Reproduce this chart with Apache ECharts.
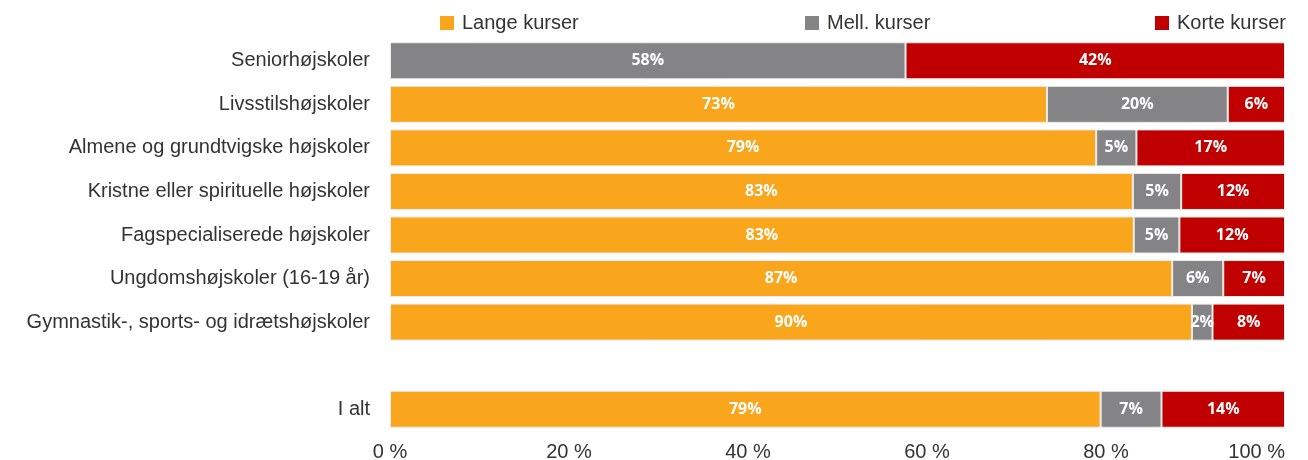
<!DOCTYPE html>
<html><head><meta charset="utf-8">
<script src="https://cdn.jsdelivr.net/npm/echarts@6/dist/echarts.min.js"></script>
<style>html,body{margin:0;padding:0;background:#fff}#c{width:1308px;height:460px}</style>
</head><body><div id="c"></div>
<script>
const categories = ['Seniorhøjskoler','Livsstilshøjskoler','Almene og grundtvigske højskoler','Kristne eller spirituelle højskoler','Fagspecialiserede højskoler','Ungdomshøjskoler (16-19 år)','Gymnastik-, sports- og idrætshøjskoler','','I alt'];
const lange = ['-', 73.4, 78.9, 83.0, 83.1, 87.4, 89.6, '-', 79.4];
const mell  = [57.6, 20.2, 4.5, 5.4, 5.1, 5.7, 2.3, '-', 6.8];
const korte = [42.4, 6.4, 16.6, 11.6, 11.8, 6.9, 8.1, '-', 13.8];
const seriesNames = ['Lange kurser','Mell. kurser','Korte kurser'];
const colors = ['#F9A61D','#848487','#C00000'];

const chart = echarts.init(document.getElementById('c'));
const lbl = {show:true, position:'inside', color:'#fff', fontFamily:'Open Sans', fontWeight:'bold', fontSize:16,
  formatter: p => Math.round(p.value) + '%'};
const mk = (name, data, i) => ({name, type:'bar', stack:'s', data, barWidth:37,
  itemStyle:{color:colors[i], borderColor:'#ececec', borderWidth:1}, label:lbl, emphasis:{disabled:true}});
const legendBase = {top:13, icon:'rect', itemWidth:14, itemHeight:14, itemGap:8, padding:0,
  itemStyle:{borderWidth:0},
  textStyle:{fontFamily:'Liberation Sans', fontSize:20, color:'#333', padding:[0,0,0,3]}};
chart.setOption({
  animation:false,
  color: colors,
  legend:[
    Object.assign({left:440, data:[seriesNames[0]]}, legendBase),
    Object.assign({left:805, data:[seriesNames[1]]}, legendBase),
    Object.assign({left:1155, data:[seriesNames[2]]}, legendBase)
  ],
  grid:{left:390, right:23, top:39, bottom:29, containLabel:false, outerBoundsMode:'none'},
  xAxis:{type:'value', min:0, max:100, interval:20,
    axisLabel:{formatter:'{value} %', fontFamily:'Liberation Sans', fontSize:20, color:'#333', margin:11, alignMaxLabel:'right'},
    splitLine:{show:false}, axisLine:{show:false}, axisTick:{show:false}},
  yAxis:{type:'category', data:categories, inverse:true,
    axisLabel:{fontFamily:'Liberation Sans', fontSize:20, color:'#333', margin:20},
    axisLine:{show:false}, axisTick:{show:false}},
  series:[mk(seriesNames[0], lange, 0), mk(seriesNames[1], mell, 1), mk(seriesNames[2], korte, 2)]
});
</script></body></html>
